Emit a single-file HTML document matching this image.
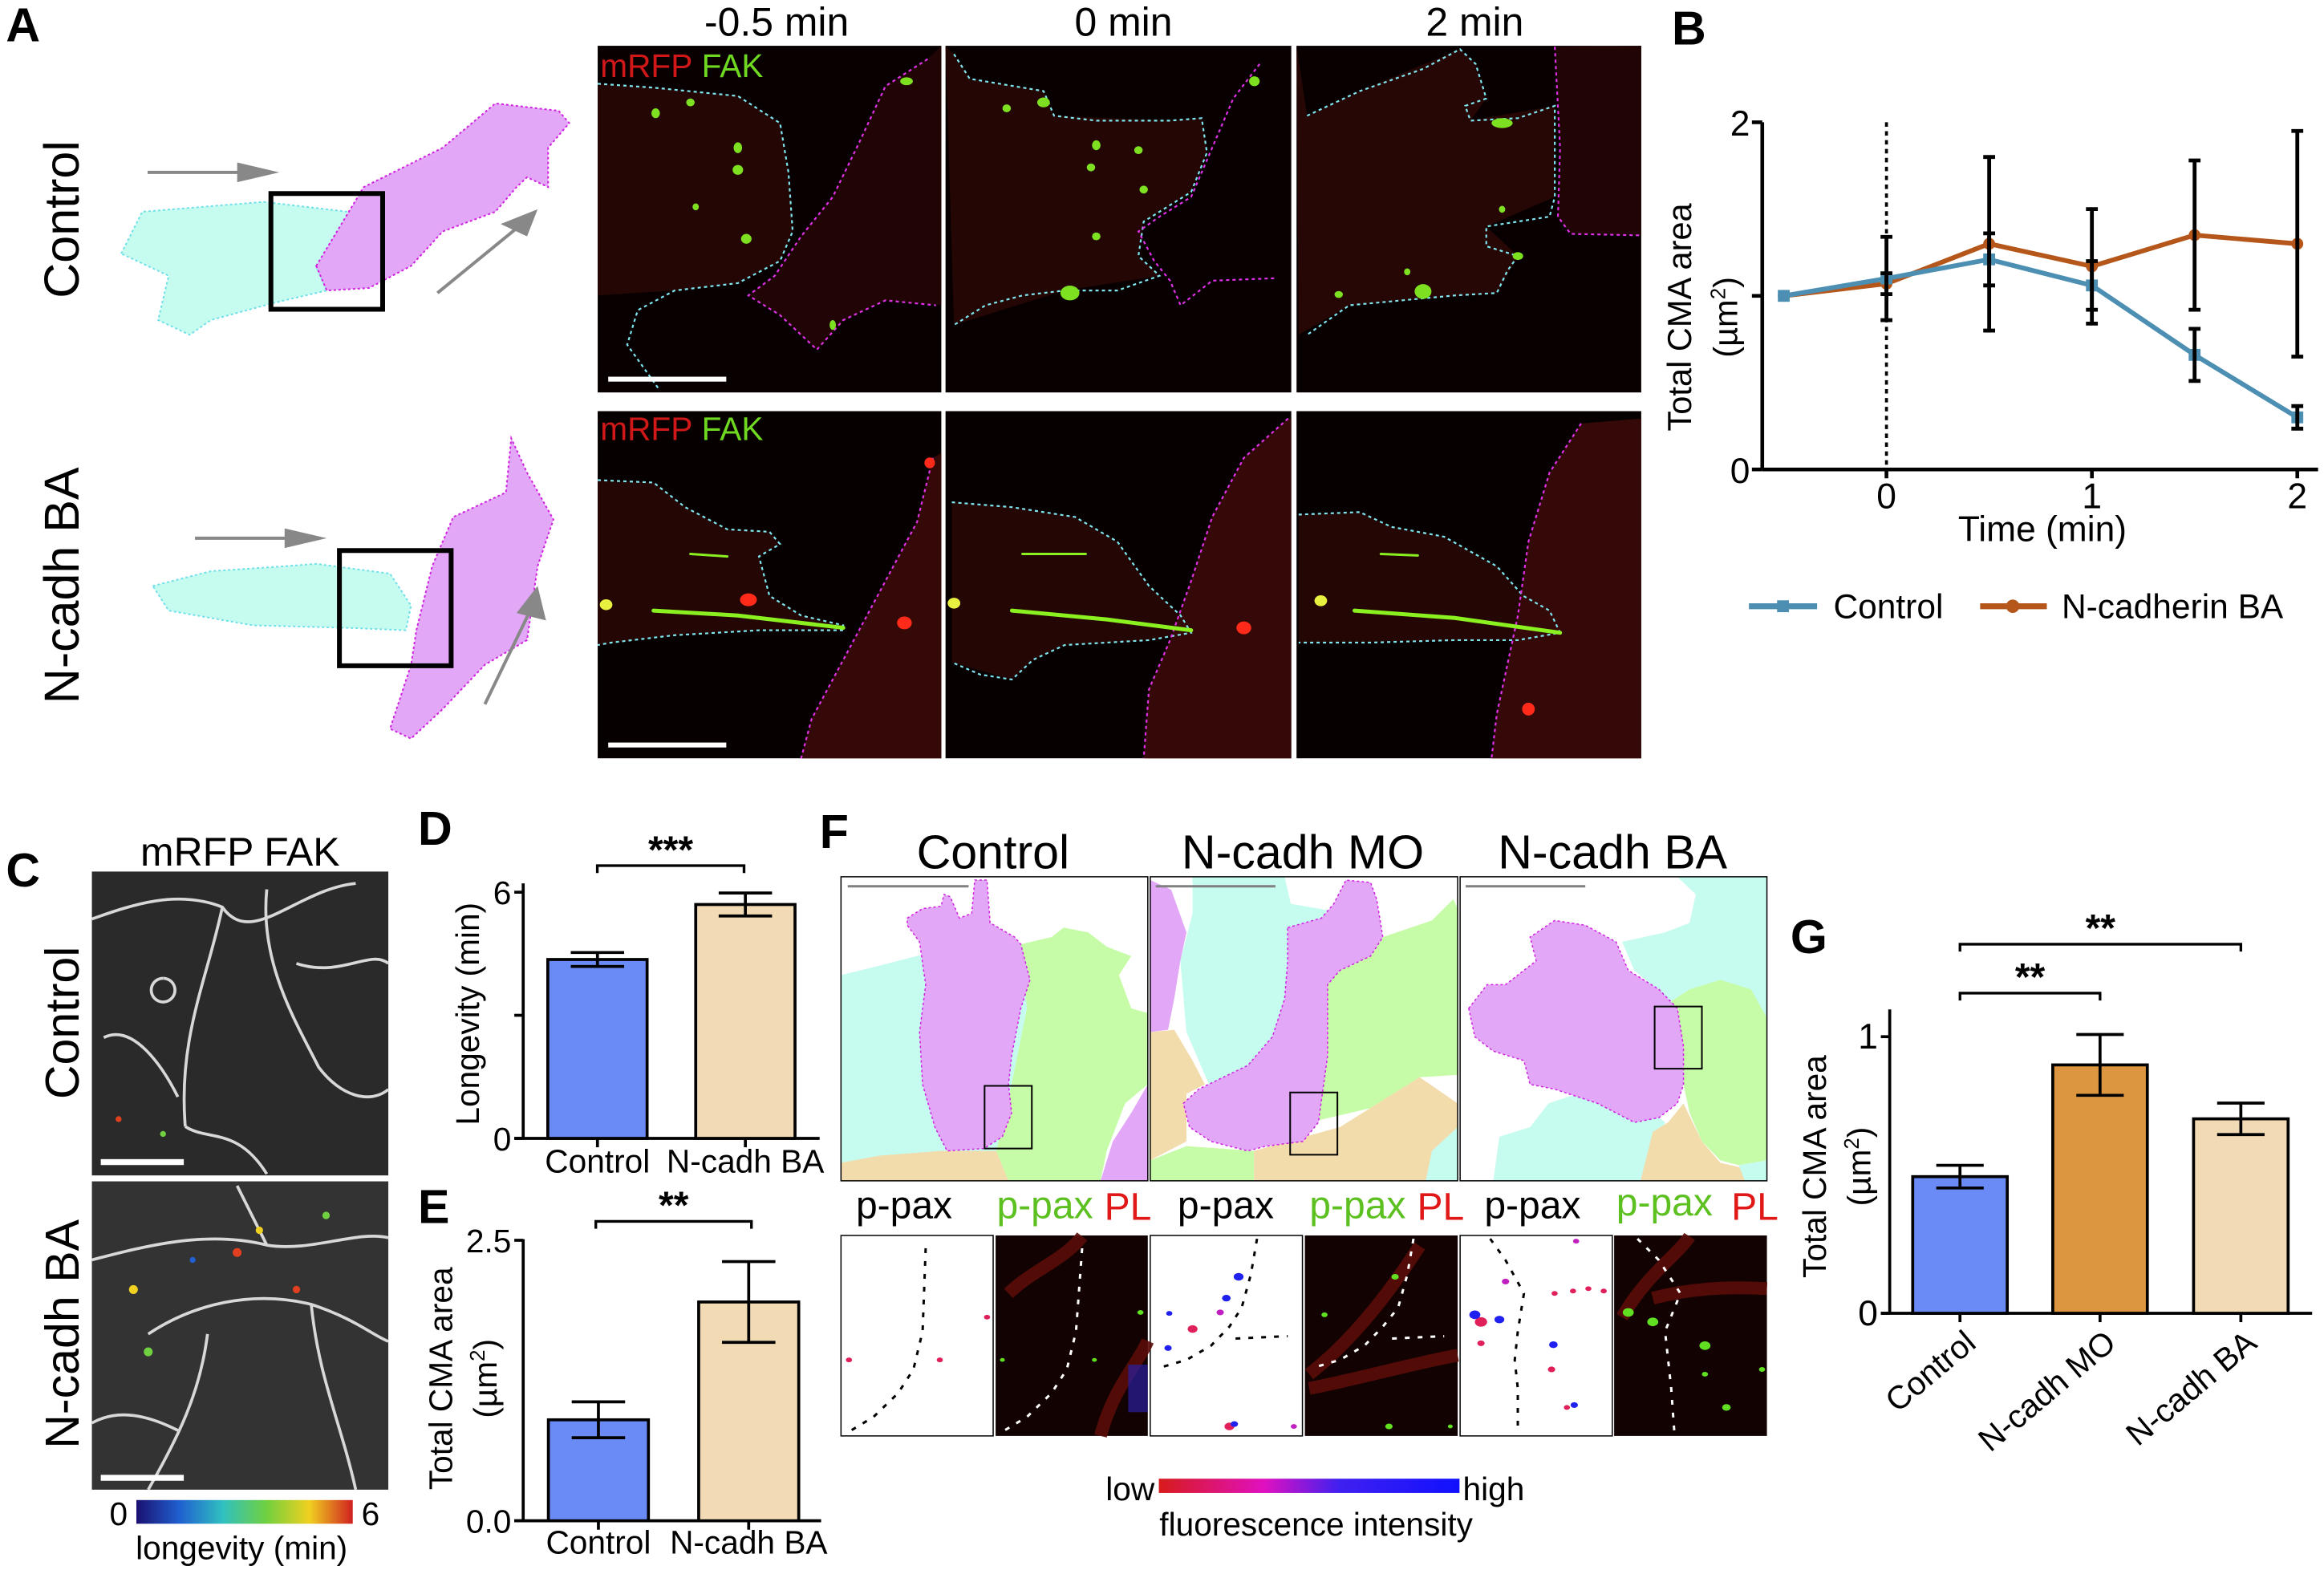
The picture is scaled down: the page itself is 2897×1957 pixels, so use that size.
<!DOCTYPE html>
<html><head><meta charset="utf-8"><style>
html,body{margin:0;padding:0;background:#fff}
svg{display:block}
text{font-family:"Liberation Sans",Arial,sans-serif}
.ns{vector-effect:non-scaling-stroke}
</style></head><body>
<svg id="fig" width="2897" height="1957" viewBox="0 0 1568 1059.2" preserveAspectRatio="none" xmlns="http://www.w3.org/2000/svg">
<defs>
<linearGradient id="fl" x1="0" x2="1" y1="0" y2="0"><stop offset="0" stop-color="#d81b1b"/><stop offset="0.35" stop-color="#e010c0"/><stop offset="0.6" stop-color="#4020f0"/><stop offset="1" stop-color="#1010ff"/></linearGradient>
<linearGradient id="lg" x1="0" x2="1" y1="0" y2="0"><stop offset="0" stop-color="#1a1070"/><stop offset="0.2" stop-color="#2060d0"/><stop offset="0.4" stop-color="#30c0c0"/><stop offset="0.6" stop-color="#70d040"/><stop offset="0.8" stop-color="#f0d020"/><stop offset="1" stop-color="#d02020"/></linearGradient>
</defs>

<!-- Panel letters -->
<g font-weight="bold" font-size="32" fill="#000">
<text x="4" y="28">A</text>
<text x="1128" y="30">B</text>
<text x="4" y="598">C</text>
<text x="282" y="570">D</text>
<text x="282" y="825">E</text>
<text x="553" y="572">F</text>
<text x="1208" y="643">G</text>
</g>

<!-- Panel A -->
<g>
<text x="42" y="148" font-size="33" text-anchor="middle" transform="rotate(-90 42 148)" dy="11">Control</text>
<text x="42" y="395" font-size="33" text-anchor="middle" transform="rotate(-90 42 395)" dy="11">N-cadh BA</text>
<text x="524" y="24" font-size="27" text-anchor="middle">-0.5 min</text>
<text x="758" y="24" font-size="27" text-anchor="middle">0 min</text>
<text x="995" y="24" font-size="27" text-anchor="middle">2 min</text>
<g transform="scale(0.7112,0.3322)">
 <path class="ns" d="M115,515 L135,430 L250,410 L330,430 L335,470 L300,540 L310,590 L260,615 L200,650 L180,680 L150,650 L160,560 Z" fill="#c6fbef" stroke="#6fe0e8" stroke-width="2" stroke-dasharray="3 3"/>
 <path class="ns" d="M300,540 L345,380 L420,300 L470,210 L530,225 L540,250 L520,300 L520,380 L500,360 L490,380 L470,430 L420,470 L390,540 L350,585 L310,590 Z" fill="#e2a7f7" stroke="#d020e0" stroke-width="2" stroke-dasharray="3 3"/>
 <rect class="ns" x="257" y="393" width="106" height="235" fill="none" stroke="#000" stroke-width="6"/>
 <path class="ns" d="M140,350 L235,350" stroke="#888" stroke-width="4"/>
 <path class="ns" d="M225,330 L265,350 L225,370 Z" fill="#888"/>
 <path class="ns" d="M415,595 L495,455" stroke="#888" stroke-width="4"/>
 <path class="ns" d="M475,455 L510,425 L500,480 Z" fill="#888"/>
 <path class="ns" d="M145,1190 L200,1160 L270,1150 L300,1145 L370,1165 L390,1230 L385,1280 L330,1275 L240,1270 L160,1240 Z" fill="#c6fbef" stroke="#6fe0e8" stroke-width="2" stroke-dasharray="3 3"/>
 <path class="ns" d="M395,1280 L410,1150 L430,1050 L480,1000 L485,890 L500,960 L525,1055 L510,1150 L500,1300 L460,1350 L420,1440 L390,1500 L370,1480 L390,1350 Z" fill="#e2a7f7" stroke="#d020e0" stroke-width="2" stroke-dasharray="3 3"/>
 <rect class="ns" x="322" y="1118" width="106" height="234" fill="none" stroke="#000" stroke-width="6"/>
 <path class="ns" d="M185,1093 L280,1093" stroke="#888" stroke-width="4"/>
 <path class="ns" d="M270,1073 L310,1093 L270,1113 Z" fill="#888"/>
 <path class="ns" d="M460,1430 L503,1240" stroke="#888" stroke-width="4"/>
 <path class="ns" d="M490,1245 L510,1190 L518,1260 Z" fill="#888"/>

 <g>
  <rect x="567" y="93" width="326" height="704" fill="#080000"/>
  <rect x="897" y="93" width="328" height="704" fill="#080000"/>
  <rect x="1230" y="93" width="327" height="704" fill="#080000"/>
  <path d="M567,170 L620,178 L700,195 L740,250 L748,350 L752,470 L740,530 L700,575 L640,590 L567,600 Z" fill="#240604"/>
  <path d="M880,120 L840,175 L815,290 L790,400 L760,480 L735,560 L710,600 L740,640 L775,710 L800,650 L840,610 L893,620 L893,93 Z" fill="#200504"/>
  <path d="M905,110 L920,160 L990,185 L1000,235 L1110,245 L1140,240 L1145,310 L1130,390 L1085,450 L1080,520 L1100,560 L1010,590 L905,660 L897,93 Z" fill="#240604"/>
  <path d="M1240,235 L1290,185 L1385,100 L1400,130 L1410,200 L1395,245 L1475,215 L1475,400 L1410,460 L1440,520 L1420,595 L1280,620 L1232,680 L1230,93 Z" fill="#260705"/>
  <path d="M1475,95 L1480,300 L1478,440 L1490,475 L1557,478 L1557,93 Z" fill="#200504"/>
  <g fill="none" stroke-width="2.2" stroke-dasharray="4 4">
   <path class="ns" stroke="#7fe6f0" d="M567,170 L620,178 L700,195 L740,250 L748,350 L752,470 L740,530 L700,575 L640,590 L605,630 L595,700 L615,760 L625,790"/>
   <path class="ns" stroke="#e030e8" d="M880,120 L840,175 L815,290 L790,400 L760,480 L735,560 L710,600 L740,640 L775,710 L800,650 L840,610 L888,620"/>
   <path class="ns" stroke="#7fe6f0" d="M905,110 L920,160 L990,185 L1000,235 L1040,245 L1110,245 L1140,240 L1145,310 L1130,390 L1085,450 L1080,520 L1100,560 L1060,590 L1010,590 L970,600 L935,620 L905,660"/>
   <path class="ns" stroke="#e030e8" d="M1195,130 L1170,200 L1150,300 L1130,400 L1100,440 L1080,470 L1095,530 L1110,570 L1120,620 L1150,570 L1210,565"/>
   <path class="ns" stroke="#7fe6f0" d="M1240,235 L1290,185 L1350,140 L1385,100 L1400,130 L1410,200 L1390,215 L1395,245 L1440,240 L1475,215 L1475,400 L1470,440 L1410,460 L1410,500 L1440,520 L1430,550 L1420,595 L1380,600 L1330,610 L1280,620 L1240,680"/>
   <path class="ns" stroke="#e030e8" d="M1475,95 L1480,300 L1478,440 L1490,475 L1557,478"/>
  </g>
  <g fill="#7de020">
   <ellipse cx="860" cy="165" rx="6" ry="8"/><ellipse cx="655" cy="208" rx="4" ry="8"/><ellipse cx="622" cy="230" rx="4" ry="10"/>
   <ellipse cx="700" cy="300" rx="4" ry="11"/><ellipse cx="700" cy="345" rx="5" ry="10"/><ellipse cx="708" cy="485" rx="5" ry="10"/>
   <ellipse cx="660" cy="420" rx="3" ry="7"/><ellipse cx="790" cy="660" rx="3" ry="10"/>
   <ellipse cx="990" cy="208" rx="6" ry="10"/><ellipse cx="955" cy="220" rx="4" ry="8"/><ellipse cx="1040" cy="295" rx="4" ry="10"/>
   <ellipse cx="1080" cy="305" rx="4" ry="8"/><ellipse cx="1035" cy="340" rx="4" ry="8"/><ellipse cx="1085" cy="385" rx="4" ry="8"/>
   <ellipse cx="1015" cy="595" rx="9" ry="15"/><ellipse cx="1190" cy="165" rx="5" ry="10"/><ellipse cx="1040" cy="480" rx="4" ry="8"/>
   <ellipse cx="1425" cy="250" rx="10" ry="10"/><ellipse cx="1350" cy="592" rx="8" ry="15"/><ellipse cx="1440" cy="520" rx="5" ry="8"/>
   <ellipse cx="1270" cy="598" rx="4" ry="7"/><ellipse cx="1335" cy="552" rx="3" ry="7"/><ellipse cx="1425" cy="425" rx="3" ry="7"/>
  </g>
  <rect x="577" y="765" width="112" height="10" fill="#fff"/>
 </g>

 <g>
  <rect x="567" y="835" width="326" height="705" fill="#060000"/>
  <rect x="897" y="835" width="328" height="705" fill="#060000"/>
  <rect x="1230" y="835" width="327" height="705" fill="#060000"/>
  <path d="M567,975 L620,980 L650,1030 L690,1075 L730,1080 L740,1105 L720,1130 L730,1210 L760,1250 L800,1270 L800,1280 L720,1280 L640,1290 L567,1310 Z" fill="#240604"/>
  <path d="M885,930 L870,1060 L840,1180 L815,1280 L790,1380 L770,1460 L760,1540 L893,1540 L893,920 Z" fill="#340907"/>
  <path d="M903,1020 L960,1030 L1020,1050 L1060,1100 L1090,1190 L1120,1250 L1130,1285 L1090,1300 L1010,1310 L980,1340 L960,1380 L903,1345 Z" fill="#240604"/>
  <path d="M1222,850 L1180,930 L1150,1050 L1130,1180 L1110,1300 L1090,1400 L1085,1540 L1225,1540 L1225,850 Z" fill="#340907"/>
  <path d="M1232,1045 L1290,1040 L1320,1070 L1370,1090 L1420,1150 L1445,1210 L1470,1240 L1480,1285 L1440,1300 L1232,1305 Z" fill="#240604"/>
  <path d="M1500,860 L1470,960 L1450,1100 L1440,1250 L1430,1350 L1420,1450 L1415,1540 L1557,1540 L1557,850 Z" fill="#340907"/>
  <g fill="none" stroke-width="2.2" stroke-dasharray="4 4">
   <path class="ns" stroke="#7fe6f0" d="M567,975 L620,980 L650,1030 L690,1075 L730,1080 L740,1105 L720,1130 L730,1210 L760,1250 L800,1270 L800,1280 L720,1280 L640,1290 L580,1305 L567,1310"/>
   <path class="ns" stroke="#e030e8" d="M885,930 L870,1060 L840,1180 L815,1280 L790,1380 L770,1460 L760,1540"/>
   <path class="ns" stroke="#7fe6f0" d="M903,1020 L960,1030 L1020,1050 L1060,1100 L1090,1190 L1120,1250 L1130,1285 L1090,1300 L1010,1310 L980,1340 L960,1380 L930,1370 L903,1345"/>
   <path class="ns" stroke="#e030e8" d="M1222,850 L1180,930 L1150,1050 L1130,1180 L1110,1300 L1090,1400 L1085,1540"/>
   <path class="ns" stroke="#7fe6f0" d="M1232,1045 L1290,1040 L1320,1070 L1370,1090 L1420,1150 L1445,1210 L1470,1240 L1480,1285 L1440,1300 L1380,1300 L1300,1305 L1232,1305"/>
   <path class="ns" stroke="#e030e8" d="M1500,860 L1470,960 L1450,1100 L1440,1250 L1430,1350 L1420,1450 L1415,1540"/>
  </g>
  <g stroke="#8af020" stroke-linecap="round" fill="none">
   <path class="ns" stroke-width="5" d="M620,1240 L700,1250 L800,1275"/><path class="ns" stroke-width="3" d="M655,1125 L690,1130"/>
   <path class="ns" stroke-width="5" d="M960,1240 L1050,1258 L1130,1280"/><path class="ns" stroke-width="3" d="M970,1125 L1030,1125"/>
   <path class="ns" stroke-width="5" d="M1285,1240 L1380,1255 L1480,1285"/><path class="ns" stroke-width="3" d="M1310,1125 L1345,1128"/>
  </g>
  <g fill="#ff2a1a">
   <ellipse cx="710" cy="1218" rx="8" ry="13"/><ellipse cx="858" cy="1265" rx="7" ry="13"/><ellipse cx="1180" cy="1275" rx="7" ry="13"/>
   <ellipse cx="1450" cy="1440" rx="6" ry="13"/><ellipse cx="882" cy="940" rx="5" ry="11"/>
  </g>
  <g fill="#e8f040"><ellipse cx="575" cy="1228" rx="6" ry="11"/><ellipse cx="905" cy="1225" rx="6" ry="11"/><ellipse cx="1253" cy="1220" rx="6" ry="11"/></g>
  <rect x="577" y="1508" width="112" height="10" fill="#fff"/>
 </g>
</g>
<text x="405" y="52" font-size="22"><tspan fill="#d01818">mRFP</tspan> <tspan fill="#6fd820">FAK</tspan></text>
<text x="405" y="297" font-size="22"><tspan fill="#d01818">mRFP</tspan> <tspan fill="#6fd820">FAK</tspan></text>
</g>

<!-- Panel B -->
<g id="panelB">
<text x="1133" y="214" font-size="22.5" text-anchor="middle" transform="rotate(-90 1133 214)" dy="8">Total CMA area</text>
<text x="1164" y="214" font-size="22.5" text-anchor="middle" transform="rotate(-90 1164 214)" dy="8">(µm<tspan font-size="14" dy="-8">2</tspan><tspan dy="8">)</tspan></text>
<text x="1378" y="365" font-size="24" text-anchor="middle">Time (min)</text>
<g>
 <line x1="1180" y1="409" x2="1226" y2="409" stroke="#4d8fb3" stroke-width="4"/>
 <rect x="1199" y="405" width="8" height="8" fill="#4d8fb3"/>
 <text x="1237" y="417" font-size="23">Control</text>
 <line x1="1336" y1="409" x2="1381" y2="409" stroke="#b5561a" stroke-width="4"/>
 <circle cx="1358" cy="409" r="4.5" fill="#b5561a"/>
 <text x="1391" y="417" font-size="23">N-cadherin BA</text>
</g>
</g>

<!-- Panel C -->
<g>
<text x="162" y="584" font-size="27" text-anchor="middle">mRFP FAK</text>
<text x="42" y="690" font-size="32" text-anchor="middle" transform="rotate(-90 42 690)" dy="11">Control</text>
<text x="42" y="900" font-size="32" text-anchor="middle" transform="rotate(-90 42 900)" dy="11">N-cadh BA</text>
<rect x="62" y="588" width="200" height="205" fill="#2a2a2a"/>
<rect x="62" y="797" width="200" height="208" fill="#333"/>
<g fill="none" stroke="#d8d8d8" stroke-width="2">
 <path d="M62,620 C90,610 120,600 150,612 C170,640 200,600 240,596 M150,612 C140,660 120,700 125,760 M180,600 C175,650 200,690 215,720 C230,740 250,745 262,735 M70,700 C90,690 110,720 120,740 M200,650 C230,660 250,640 262,650 M110,660 a8,8 0 1,0 0.1,0 M125,760 C140,770 160,760 180,792"/>
 <path d="M62,850 C100,840 140,830 180,840 C210,845 240,830 262,835 M100,900 C130,880 170,870 210,880 C240,890 250,900 262,905 M140,900 C135,940 120,970 100,1005 M210,880 C215,930 230,960 240,1005 M62,960 C80,950 100,955 120,965 M160,800 C170,820 175,830 180,840"/>
</g>
<g fill="#e04020"><circle cx="160" cy="845" r="3"/><circle cx="175" cy="830" r="2.5" fill="#f0d020"/><circle cx="90" cy="870" r="3" fill="#f0d020"/><circle cx="200" cy="870" r="2.5"/><circle cx="100" cy="912" r="3" fill="#70d040"/><circle cx="130" cy="850" r="2" fill="#2060d0"/><circle cx="220" cy="820" r="2.5" fill="#70d040"/><circle cx="110" cy="765" r="2" fill="#70d040"/><circle cx="80" cy="755" r="2"/></g>
<rect x="68" y="782" width="56" height="4" fill="#fff"/>
<rect x="68" y="995" width="56" height="4" fill="#fff"/>
<rect x="92" y="1012" width="146" height="16" fill="url(#lg)"/>
<text x="80" y="1029" font-size="22" text-anchor="middle">0</text>
<text x="250" y="1029" font-size="22" text-anchor="middle">6</text>
<text x="163" y="1052" font-size="22" text-anchor="middle">longevity (min)</text>
</g>

<g id="panelD">
<text x="315" y="684" font-size="22" text-anchor="middle" transform="rotate(-90 315 684)" dy="8">Longevity (min)</text>
</g>
<g id="panelE">
<text x="297" y="930" font-size="22" text-anchor="middle" transform="rotate(-90 297 930)" dy="8">Total CMA area</text>
<text x="327" y="930" font-size="22" text-anchor="middle" transform="rotate(-90 327 930)" dy="8">(µm<tspan font-size="14" dy="-8">2</tspan><tspan dy="8">)</tspan></text>
</g>
<g id="panelG">
<text x="1224" y="787" font-size="22" text-anchor="middle" transform="rotate(-90 1224 787)" dy="8">Total CMA area</text>
<text x="1254" y="787" font-size="22" text-anchor="middle" transform="rotate(-90 1254 787)" dy="8">(µm<tspan font-size="14" dy="-8">2</tspan><tspan dy="8">)</tspan></text>
</g>

<!-- Panel F -->
<g>
<text x="670" y="586" font-size="32" text-anchor="middle">Control</text>
<text x="879" y="586" font-size="32" text-anchor="middle">N-cadh MO</text>
<text x="1088" y="586" font-size="32" text-anchor="middle">N-cadh BA</text>
<g transform="translate(552.1,552.1) scale(0.414,0.3205)">
 <rect x="37" y="123" width="500" height="640" fill="#fff"/>
 <path d="M37,330 L100,310 L175,285 L330,265 L340,400 L315,560 L290,700 L310,763 L37,763 Z" fill="#c6fbef"/>
 <path d="M330,265 L380,250 L400,230 L440,240 L470,270 L510,290 L490,330 L510,400 L537,410 L537,560 L500,600 L470,700 L460,763 L310,763 L290,700 L315,560 L340,400 Z" fill="#c6fca8"/>
 <path d="M37,725 L100,710 L200,700 L290,700 L310,763 L37,763 Z" fill="#f2dcab"/>
 <path d="M537,560 L537,763 L460,763 L480,680 L510,620 Z" fill="#e2a7f7"/>
 <path d="M145,210 L170,190 L200,185 L205,160 L215,165 L230,210 L250,200 L255,130 L275,130 L280,220 L320,250 L330,265 L345,340 L330,400 L315,500 L310,560 L315,620 L300,670 L270,695 L210,700 L190,650 L170,560 L165,450 L175,350 L165,260 L145,225 Z" fill="#e2a7f7" stroke="#d020e0" stroke-width="1.5" stroke-dasharray="3 3" class="ns"/>
 <rect x="271" y="563" width="77" height="132" fill="none" stroke="#000" stroke-width="2" class="ns"/>
 <rect x="541" y="123" width="501" height="640" fill="#fff"/>
 <path d="M610,123 L760,123 L770,180 L860,200 L920,250 L820,340 L820,560 L640,570 L600,450 L590,300 L610,200 Z" fill="#c6fbef"/>
 <path d="M920,250 L1000,215 L1035,170 L1042,190 L1042,540 L980,545 L900,610 L800,640 L820,500 L830,340 Z" fill="#c6fca8"/>
 <path d="M541,450 L580,445 L610,510 L630,560 L600,580 L600,680 L541,720 Z" fill="#f2dcab"/>
 <path d="M710,700 L850,650 L980,545 L1042,600 L1042,700 L990,763 L710,763 Z" fill="#f2dcab"/>
 <path d="M541,720 L600,690 L710,700 L710,763 L541,763 Z" fill="#c6fca8"/>
 <path d="M1000,700 L1042,650 L1042,763 L990,763 Z" fill="#c6fbef"/>
 <path d="M541,130 L575,150 L600,240 L590,300 L580,380 L570,445 L541,450 Z" fill="#e2a7f7"/>
 <path d="M765,230 L820,210 L840,180 L860,130 L900,135 L910,170 L920,250 L900,290 L850,320 L830,350 L830,500 L815,640 L790,680 L730,690 L700,700 L640,680 L605,650 L595,600 L620,570 L700,520 L740,460 L760,380 L765,300 Z" fill="#e2a7f7" stroke="#d020e0" stroke-width="1.5" stroke-dasharray="3 3" class="ns"/>
 <rect x="769" y="577" width="77" height="131" fill="none" stroke="#000" stroke-width="2" class="ns"/>
 <rect x="1046" y="123" width="500" height="640" fill="#fff"/>
 <path d="M1400,123 L1546,123 L1546,420 L1500,370 L1420,360 L1390,385 L1330,320 L1310,260 L1380,240 L1420,220 L1430,160 Z" fill="#c6fbef"/>
 <path d="M1100,763 L1110,670 L1160,650 L1190,600 L1260,570 L1350,610 L1380,640 L1340,763 Z" fill="#c6fbef"/>
 <path d="M1390,385 L1420,360 L1470,340 L1520,360 L1546,420 L1546,720 L1500,730 L1470,720 L1440,680 L1420,620 L1410,560 Z" fill="#c6fca8"/>
 <path d="M1340,763 L1360,660 L1385,640 L1410,600 L1440,680 L1470,725 L1520,740 L1510,763 Z" fill="#f2dcab"/>
 <path d="M1500,730 L1546,720 L1546,763 L1510,763 Z" fill="#c6fbef"/>
 <path d="M1060,400 L1090,350 L1120,350 L1170,300 L1160,250 L1200,215 L1250,225 L1300,260 L1320,320 L1370,360 L1400,400 L1410,480 L1410,560 L1400,600 L1370,630 L1330,640 L1270,600 L1200,570 L1160,560 L1150,510 L1100,490 L1070,460 Z" fill="#e2a7f7" stroke="#d020e0" stroke-width="1.5" stroke-dasharray="3 3" class="ns"/>
 <rect x="1363" y="396" width="77" height="131" fill="none" stroke="#000" stroke-width="2" class="ns"/>
 <g fill="none" stroke="#000" stroke-width="1.5">
  <rect class="ns" x="37" y="123" width="500" height="640"/><rect class="ns" x="541" y="123" width="501" height="640"/><rect class="ns" x="1046" y="123" width="500" height="640"/>
 </g>
 <g stroke="#808080" stroke-width="3"><line class="ns" x1="48" y1="143" x2="245" y2="143"/><line class="ns" x1="550" y1="143" x2="745" y2="143"/><line class="ns" x1="1055" y1="143" x2="1250" y2="143"/></g>
 <rect x="37" y="878" width="248" height="422" fill="#fff" stroke="#000" stroke-width="1.5" class="ns"/>
 <rect x="289" y="878" width="248" height="422" fill="#120202"/>
 <rect x="541" y="878" width="248" height="422" fill="#fff" stroke="#000" stroke-width="1.5" class="ns"/>
 <rect x="793" y="878" width="249" height="422" fill="#120202"/>
 <rect x="1046" y="878" width="248" height="422" fill="#fff" stroke="#000" stroke-width="1.5" class="ns"/>
 <rect x="1297" y="878" width="249" height="422" fill="#120202"/>
 <g fill="none" stroke="#5a0c08" stroke-width="16" opacity="0.9">
  <path class="ns" d="M310,1000 C350,950 400,930 430,880"/><path class="ns" d="M460,1300 C480,1200 520,1150 537,1100"/>
  <path class="ns" d="M800,1170 C870,1100 930,1000 980,900"/><path class="ns" d="M800,1200 C880,1180 960,1150 1042,1130"/>
  <path class="ns" d="M1310,1050 C1350,960 1400,920 1420,880"/><path class="ns" d="M1360,1010 C1420,990 1480,985 1546,990"/>
 </g>
 <rect x="505" y="1150" width="32" height="100" fill="#2a20a0" opacity="0.7"/>
 <g fill="none" stroke="#000" stroke-width="3" stroke-dasharray="6 10">
  <path class="ns" d="M175,905 L170,1080 L155,1160 L130,1210 L90,1260 L45,1295"/>
  <path class="ns" d="M715,885 L705,960 L690,1030 L670,1070 L640,1110 L600,1140 L560,1155"/><path class="ns" d="M680,1095 L765,1090"/>
  <path class="ns" d="M1095,885 L1120,930 L1150,1000 L1140,1080 L1135,1140 L1140,1200 L1140,1290"/>
 </g>
 <g fill="none" stroke="#fff" stroke-width="3" stroke-dasharray="6 10">
  <path class="ns" d="M430,905 L420,1080 L405,1160 L380,1210 L340,1260 L295,1295"/>
  <path class="ns" d="M970,885 L960,960 L945,1030 L920,1070 L890,1110 L850,1140 L810,1155"/><path class="ns" d="M935,1095 L1020,1090"/>
  <path class="ns" d="M1335,885 L1370,930 L1405,1000 L1380,1080 L1385,1140 L1390,1200 L1395,1290"/>
 </g>
 <g fill="#e0205a"><circle cx="50" cy="1140" r="5"/><circle cx="198" cy="1140" r="5"/><circle cx="275" cy="1050" r="5"/>
  <circle cx="610" cy="1075" r="8"/><circle cx="670" cy="1280" r="8"/><circle cx="1080" cy="1060" r="10"/><circle cx="1195" cy="1160" r="6"/><circle cx="1200" cy="1000" r="5"/><circle cx="1230" cy="995" r="5"/><circle cx="1255" cy="990" r="5"/><circle cx="1280" cy="995" r="5"/><circle cx="1220" cy="1240" r="5"/><circle cx="1080" cy="1105" r="6"/></g>
 <g fill="#2020f0"><circle cx="685" cy="965" r="8"/><circle cx="665" cy="1010" r="7"/><circle cx="570" cy="1115" r="6"/><circle cx="572" cy="1042" r="5"/><circle cx="1070" cy="1045" r="9"/><circle cx="1110" cy="1055" r="8"/><circle cx="1198" cy="1108" r="7"/><circle cx="1232" cy="1235" r="6"/><circle cx="678" cy="1275" r="6"/></g>
 <g fill="#c020c0"><circle cx="655" cy="1040" r="6"/><circle cx="1120" cy="975" r="6"/><circle cx="775" cy="1280" r="5"/><circle cx="1235" cy="890" r="5"/></g>
 <g fill="#60e020"><circle cx="300" cy="1140" r="4"/><circle cx="450" cy="1140" r="4"/><circle cx="525" cy="1040" r="5"/><circle cx="825" cy="1045" r="5"/><circle cx="940" cy="965" r="6"/><circle cx="930" cy="1280" r="6"/><circle cx="1030" cy="1280" r="4"/><circle cx="1320" cy="1040" r="9"/><circle cx="1360" cy="1060" r="9"/><circle cx="1445" cy="1110" r="9"/><circle cx="1480" cy="1240" r="7"/><circle cx="1445" cy="1170" r="5"/><circle cx="1538" cy="1160" r="5"/></g>
 <rect x="555" y="1390" width="490" height="30" fill="url(#fl)"/>
</g>
<g font-size="26" text-anchor="middle">
<text x="610" y="822">p-pax</text>
<text x="705" y="822" fill="#5cc020">p-pax</text>
<text x="761" y="823" fill="#e01818">PL</text>
<text x="827" y="822">p-pax</text>
<text x="916" y="822" fill="#5cc020">p-pax</text>
<text x="972" y="823" fill="#e01818">PL</text>
<text x="1034" y="822">p-pax</text>
<text x="1123" y="820" fill="#5cc020">p-pax</text>
<text x="1184" y="823" fill="#e01818">PL</text>
</g>
<text x="779" y="1012" font-size="22" text-anchor="end">low</text>
<text x="987" y="1012" font-size="22">high</text>
<text x="888" y="1036" font-size="22" text-anchor="middle">fluorescence intensity</text>
</g>

<script>
// ---------- Panel B data ----------
const bTimes = [-0.5, 0, 0.5, 1, 1.5, 2];
const bControl = [1.0, 1.10, 1.21, 1.06, 0.66, 0.30];
const bControlErr = [0, 0.24, 0.15, 0.14, 0.15, 0.065];
const bBA = [1.0, 1.07, 1.30, 1.17, 1.35, 1.30];
const bBAErr = [0, 0.06, 0.5, 0.33, 0.43, 0.65];
const bXTicks = [0, 1, 2];
const bYTicks = [0, 1, 2];
const bYTickLabels = ["0", "", "2"];
// ---------- Panel D data ----------
const dCategories = ["Control", "N-cadh BA"];
const dValues = [4.36, 5.7];
const dErr = [0.17, 0.28];
const dYTicks = [0, 3, 6];
const dYTickLabels = ["0", "", "6"];
const dSig = "***";
// ---------- Panel E data ----------
const eCategories = ["Control", "N-cadh BA"];
const eValues = [0.90, 1.95];
const eErr = [0.16, 0.36];
const eYTicks = [0, 2.5];
const eYTickLabels = ["0.0", "2.5"];
const eSig = "**";
// ---------- Panel G data ----------
const gCategories = ["Control", "N-cadh MO", "N-cadh BA"];
const gValues = [0.494, 0.898, 0.703];
const gErr = [0.041, 0.11, 0.057];
const gYTicks = [0, 1];
const gYTickLabels = ["0", "1"];
const gSig = ["**", "**"];

const NS = "http://www.w3.org/2000/svg";
function mk(parent, tag, attrs, txt) {
  const el = document.createElementNS(NS, tag);
  for (const k in attrs) el.setAttribute(k, attrs[k]);
  if (txt !== undefined) el.textContent = txt;
  parent.appendChild(el);
  return el;
}

(function () {
  const g = document.getElementById("panelB");
  const bx = v => 1272.8 + v * 138.6;
  const by = v => 316.7 - v * 117.1;
  let el;
  el = mk(g, "line", {x1: 1189, y1: by(0), x2: 1564, y2: by(0), stroke: "#000", "stroke-width": 2.5});
  
  
  el = mk(g, "line", {x1: 1189, y1: by(2), x2: 1189, y2: by(0), stroke: "#000", "stroke-width": 2.5});
  
  
  bYTicks.forEach((t, i) => {
    mk(g, "line", {x1: 1182, y1: by(t), x2: 1189, y2: by(t), stroke: "#000", "stroke-width": 2.5});
    el = mk(g, "text", {x: 1174, y: by(t) + 9, "font-size": 24, "text-anchor": "middle"}, bYTickLabels[i]);
    
    
  });
  bXTicks.forEach(t => {
    mk(g, "line", {x1: bx(t), y1: by(0), x2: bx(t), y2: by(0) + 6, stroke: "#000", "stroke-width": 2.5});
    el = mk(g, "text", {x: bx(t), y: 343, "font-size": 24, "text-anchor": "middle"}, String(t));
    
    
  });
  el = mk(g, "line", {x1: bx(0), y1: by(2), x2: bx(0), y2: by(0), stroke: "#000", "stroke-width": 2, "stroke-dasharray": "3 3"});
  
  
  function series(vals, col, name, marker) {
    const pts = vals.map((v, i) => bx(bTimes[i]) + "," + by(v)).join(" ");
    let s = mk(g, "polyline", {points: pts, fill: "none", stroke: col, "stroke-width": 3.2});
    
    
    vals.forEach((v, i) => {
      let m;
      if (marker === "sq") m = mk(g, "rect", {x: bx(bTimes[i]) - 4, y: by(v) - 4, width: 8, height: 8, fill: col});
      else m = mk(g, "circle", {cx: bx(bTimes[i]), cy: by(v), r: 4, fill: col});
      
      
    });
  }
  series(bBA, "#b5561a", "ncadherin-ba", "circ");
  series(bControl, "#4d8fb3", "control", "sq");
  function errs(vals, es, name) {
    vals.forEach((v, i) => {
      if (!es[i]) return;
      const x = bx(bTimes[i]);
      const e = mk(g, "path", {d: `M${x},${by(v + es[i])}V${by(v - es[i])}M${x - 4},${by(v + es[i])}H${x + 4}M${x - 4},${by(v - es[i])}H${x + 4}`, stroke: "#000", "stroke-width": 2.6, fill: "none"});
      
      
    });
  }
  errs(bBA, bBAErr, "ncadherin-ba");
  errs(bControl, bControlErr, "control");
})();

function barChart(gid, prefix, cats, vals, errs, yTicks, yLabels, cfg) {
  const g = document.getElementById(gid);
  const ys = v => cfg.y0 - v * cfg.ppu;
  let el;
  el = mk(g, "line", {x1: cfg.ax, y1: cfg.top, x2: cfg.ax, y2: ys(0), stroke: "#000", "stroke-width": 2});
  
  
  el = mk(g, "line", {x1: cfg.ax - 6, y1: ys(0), x2: cfg.right, y2: ys(0), stroke: "#000", "stroke-width": 2});
  
  
  yTicks.forEach((t, i) => {
    mk(g, "line", {x1: cfg.ax - 6, y1: ys(t), x2: cfg.ax, y2: ys(t), stroke: "#000", "stroke-width": 2});
    el = mk(g, "text", {x: cfg.ax - 8, y: ys(t) + 8, "font-size": cfg.tfs, "text-anchor": "end"}, yLabels[i]);
    
    
  });
  const centers = [];
  cats.forEach((c, i) => {
    const x0 = cfg.bx[i], w = cfg.bw, cx = x0 + w / 2;
    centers.push(cx);
    el = mk(g, "rect", {x: x0, y: ys(vals[i]), width: w, height: ys(0) - ys(vals[i]), fill: cfg.colors[i], stroke: "#000", "stroke-width": 2});
    
    
    const hw = cfg.cap;
    el = mk(g, "path", {d: `M${cx},${ys(vals[i] + errs[i])}V${ys(vals[i] - errs[i])}M${cx - hw},${ys(vals[i] + errs[i])}H${cx + hw}M${cx - hw},${ys(vals[i] - errs[i])}H${cx + hw}`, stroke: "#000", "stroke-width": 2, fill: "none"});
    
    
    mk(g, "line", {x1: cx, y1: ys(0), x2: cx, y2: ys(0) + 6, stroke: "#000", "stroke-width": 2});
    if (cfg.rot) {
      const tx = cx + 12, ty = ys(0) + 22;
      el = mk(g, "text", {x: tx, y: ty, "font-size": cfg.cfs, "text-anchor": "end", transform: `rotate(-40 ${tx} ${ty})`}, c);
    } else {
      el = mk(g, "text", {x: cx, y: ys(0) + cfg.cdy, "font-size": cfg.cfs, "text-anchor": "middle"}, c);
    }
    
    
  });
  return {g, centers};
}
function bracket(g, x1, x2, y, label, name) {
  let el = mk(g, "path", {d: `M${x1},${y + 5}V${y}H${x2}V${y + 5}`, stroke: "#000", "stroke-width": 1.8, fill: "none"});
  
  
  el = mk(g, "text", {x: (x1 + x2) / 2, y: y - 2, "font-size": 26, "font-weight": "bold", "text-anchor": "middle"}, label);
  
  
}
(function () {
  const r = barChart("panelD", "d", dCategories, dValues, dErr, dYTicks, dYTickLabels,
    {y0: 768, ppu: 27.68, top: 596, ax: 353, right: 553, bx: [369.6, 469.4], bw: 67, colors: ["#6a8af5", "#f2dbb4"], cap: 18, tfs: 22, cfs: 22, cdy: 23});
  bracket(r.g, 403, 502, 584, dSig, "d-significance-bracket");
  const r2 = barChart("panelE", "e", eCategories, eValues, eErr, eYTicks, eYTickLabels,
    {y0: 1026, ppu: 75.7, top: 836, ax: 353, right: 554, bx: [370, 471.4], bw: 67.5, colors: ["#6a8af5", "#f2dbb4"], cap: 18, tfs: 22, cfs: 22, cdy: 22});
  bracket(r2.g, 402, 507, 824, eSig, "e-significance-bracket");
  const r3 = barChart("panelG", "g", gCategories, gValues, gErr, gYTicks, gYTickLabels,
    {y0: 886, ppu: 186.6, top: 681, ax: 1275, right: 1560, bx: [1290.5, 1385, 1480], bw: 63.8, colors: ["#6a8af5", "#dc9640", "#f2dbb4"], cap: 16, tfs: 24, cfs: 22, rot: true});
  bracket(r3.g, r3.centers[0], r3.centers[1], 670, gSig[0], "g-significance-bracket-mo");
  bracket(r3.g, r3.centers[0], r3.centers[2], 637, gSig[1], "g-significance-bracket-ba");
})();
</script>
</svg>
</body></html>
